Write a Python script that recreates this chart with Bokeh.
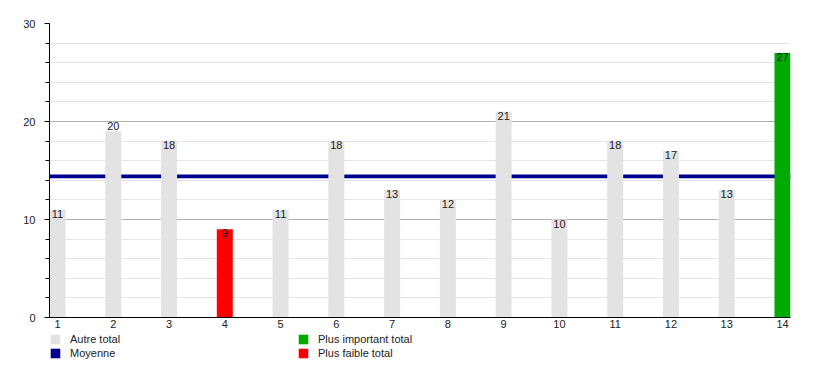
import numpy as np
from bokeh.plotting import figure
from bokeh.layouts import column
from bokeh.models import ColumnDataSource, FixedTicker, Legend, LegendItem, Range1d
from bokeh.core.properties import value
from bokeh.embed import file_html
from bokeh.resources import INLINE

# ---- data ----
categories = list(range(1, 15))
totals = [11, 19, 18, 9, 11, 18, 13, 12, 21, 10, 18, 17, 13, 27]
label_values = [11, 20, 18, 9, 11, 18, 13, 12, 21, 10, 18, 17, 13, 27]
mean_value = 14.4
y_ticks = [0, 10, 20, 30]
legend_labels = ["Autre total", "Moyenne", "Plus important total", "Plus faible total"]

GRAY = "#e3e3e3"
NAVY = "#000090"
GREEN = "#00aa00"
RED = "#ff0000"
FONT = "Liberation Sans"

tot = np.array(totals, dtype=float)
cat = np.array(categories, dtype=float)
imax = int(np.argmax(tot))
imin = int(np.argmin(tot))
others = [i for i in range(len(tot)) if i not in (imax, imin)]

bar_w = 0.287
x0, x1 = categories[0] - bar_w / 2, categories[-1] + bar_w / 2

p = figure(width=802, height=333, output_backend="svg", toolbar_location=None,
           x_range=Range1d(x0, x1), y_range=Range1d(0, 30),
           min_border_left=49, min_border_right=12, min_border_top=23, min_border_bottom=16)
p.outline_line_color = None
p.background_fill_color = "white"

# grid
p.xgrid.grid_line_color = None
p.ygrid.grid_line_color = "#b0b0b0"
p.ygrid.minor_grid_line_color = "#e4e4e4"

# axes
p.yaxis.ticker = FixedTicker(ticks=y_ticks, minor_ticks=list(range(0, 31, 2)))
p.yaxis.axis_line_color = "black"
p.yaxis.major_tick_line_color = "black"
p.yaxis.minor_tick_line_color = "black"
p.yaxis.major_tick_out = 5
p.yaxis.major_tick_in = 0
p.yaxis.minor_tick_out = 4
p.yaxis.minor_tick_in = 0
p.yaxis.major_label_standoff = 9
p.yaxis.major_label_text_font = FONT
p.yaxis.major_label_text_font_size = "11px"
p.yaxis.major_label_text_color = "#222222"

p.xaxis.ticker = FixedTicker(ticks=categories)
p.xaxis.axis_line_color = "black"
p.xaxis.major_tick_line_color = None
p.xaxis.minor_tick_line_color = None
p.xaxis.major_tick_out = 0
p.xaxis.major_tick_in = 0
p.xaxis.major_label_standoff = 2
p.xaxis.major_label_text_font = FONT
p.xaxis.major_label_text_font_size = "11px"
p.xaxis.major_label_text_color = "#222222"

# mean line (drawn beneath the bars)
p.hbar(y=[mean_value], left=[x0], right=[x1], height=0.36, fill_color=NAVY, line_color=None)

# bars
def src(idx):
    return ColumnDataSource(dict(x=cat[idx], top=tot[idx]))

p.vbar(x="x", top="top", width=bar_w, source=src(others), fill_color=GRAY, line_color=None)
p.vbar(x="x", top="top", width=bar_w, source=src([imax]), fill_color=GREEN, line_color=None)
p.vbar(x="x", top="top", width=bar_w, source=src([imin]), fill_color=RED, line_color=None)

# value labels
p.text(x=cat, y=label_values, text=[str(v) for v in label_values],
       text_align="center", text_baseline="top",
       text_font=value(FONT), text_font_size=value("11px"), text_color="#1a1a1a")

# ---- legend strip below the chart ----
lg = figure(width=802, height=26, output_backend="svg", toolbar_location=None,
            x_range=Range1d(0, 1), y_range=Range1d(0, 1),
            x_axis_type=None, y_axis_type=None,
            min_border_left=49, min_border_right=12, min_border_top=0, min_border_bottom=0)
lg.outline_line_color = None
lg.xgrid.visible = False
lg.ygrid.visible = False

swatch_colors = [GRAY, NAVY, GREEN, RED]
# zero-height swatch renderers: they only supply the legend glyph colours
swatches = [lg.vbar(x=[0.5], top=[0], bottom=[0], width=0.01, fill_color=c, line_color=None)
            for c in swatch_colors]

legend_kw = dict(orientation="vertical",
                 glyph_width=12, glyph_height=12, label_height=12,
                 label_standoff=9, spacing=2, padding=0, margin=0,
                 border_line_color=None, background_fill_alpha=0,
                 label_text_font=FONT, label_text_font_size="11px",
                 label_text_color="#222222")
leg1 = Legend(items=[LegendItem(label=legend_labels[0], renderers=[swatches[0]]),
                     LegendItem(label=legend_labels[1], renderers=[swatches[1]])],
              location=(0, 0), **legend_kw)
leg2 = Legend(items=[LegendItem(label=legend_labels[2], renderers=[swatches[2]]),
                     LegendItem(label=legend_labels[3], renderers=[swatches[3]])],
              location=(248, 0), **legend_kw)
lg.add_layout(leg1)
lg.add_layout(leg2)

layout = column(p, lg, spacing=0)
open("out.html", "w").write(file_html(layout, INLINE))
